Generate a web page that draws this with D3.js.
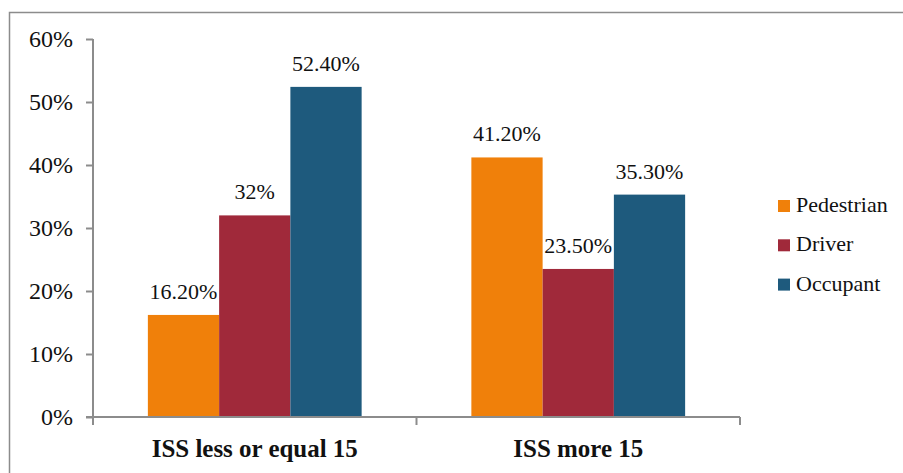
<!DOCTYPE html>
<html>
<head>
<meta charset="utf-8">
<script src="https://cdn.jsdelivr.net/npm/d3@7"></script>
<style>
  body { margin: 0; background: #fff; }
  svg { display: block; }
  svg text { font-family: "Liberation Serif", "Times New Roman", "DejaVu Serif", serif; }
</style>
</head>
<body>
<svg id="chart"></svg>
<script>
// chart data
var categories = ["ISS less or equal 15", "ISS more 15"];
var series = ["Pedestrian", "Driver", "Occupant"];
var pedestrian = [16.2, 41.2];
var driver = [32, 23.5];
var occupant = [52.4, 35.3];
var valueLabels = [["16.20%", "41.20%"], ["32%", "23.50%"], ["52.40%", "35.30%"]];
var yTicks = [0, 10, 20, 30, 40, 50, 60];
var colors = ["#f0800a", "#a0293a", "#1e5a7d"];

var config = { w: 903, h: 473 };
var plot = { left: 93, right: 740, top: 39, bottom: 417 };

var svg = d3.select("#chart")
  .attr("width", config.w)
  .attr("height", config.h);

// outer frame
svg.append("path")
  .attr("d", "M9.5," + config.h + "V12.5H" + config.w)
  .attr("fill", "none")
  .attr("stroke", "#8c8c8c")
  .attr("stroke-width", 1.5);

var x0 = d3.scaleBand()
  .domain(categories)
  .range([plot.left, plot.right]);

var x1 = d3.scaleBand()
  .domain(series)
  .range([0, x0.bandwidth()])
  .paddingOuter(0.77);

var y = d3.scaleLinear()
  .domain([0, 60])
  .range([plot.bottom, plot.top]);

var rows = [pedestrian, driver, occupant];

// bars
series.forEach(function(s, si) {
  var g = svg.append("g").attr("class", "series");
  g.selectAll("rect")
    .data(rows[si])
    .enter()
    .append("rect")
      .attr("x", function(d, i) { return x0(categories[i]) + x1(s); })
      .attr("y", function(d) { return y(d); })
      .attr("width", x1.bandwidth())
      .attr("height", function(d) { return y(0) - y(d); })
      .style("fill", colors[si]);

  g.selectAll("text")
    .data(rows[si])
    .enter()
    .append("text")
      .attr("x", function(d, i) { return x0(categories[i]) + x1(s) + x1.bandwidth() / 2; })
      .attr("y", function(d) { return y(d) - 16; })
      .attr("text-anchor", "middle")
      .attr("font-size", 22)
      .attr("fill", "#111")
      .text(function(d, i) { return valueLabels[si][i]; });
});

// y axis
var yAxis = d3.axisLeft(y)
  .tickValues(yTicks)
  .tickSize(7)
  .tickPadding(13)
  .tickFormat(function(d) { return d + "%"; });

var gy = svg.append("g")
  .attr("transform", "translate(" + plot.left + ",0)")
  .call(yAxis);
gy.attr("font-family", null);
gy.select(".domain").attr("stroke", "#8c8c8c").attr("stroke-width", 2)
  .attr("d", "M0," + plot.top + "V" + plot.bottom);
gy.selectAll(".tick line").attr("stroke", "#8c8c8c").attr("stroke-width", 2);
gy.selectAll(".tick text")
  .attr("font-size", 24)
  .attr("dy", "0.3em")
  .attr("fill", "#111");

// x axis
var gx = svg.append("g")
  .attr("transform", "translate(0," + plot.bottom + ")");
gx.append("line")
  .attr("x1", plot.left - 7).attr("x2", plot.right)
  .attr("stroke", "#8c8c8c").attr("stroke-width", 2);
var edges = [plot.left].concat(categories.map(function(c) { return x0(c) + x0.bandwidth(); }));
gx.selectAll("line.tick")
  .data(edges)
  .enter()
  .append("line")
    .attr("class", "tick")
    .attr("x1", function(d) { return d; })
    .attr("x2", function(d) { return d; })
    .attr("y1", 0).attr("y2", 8)
    .attr("stroke", "#8c8c8c").attr("stroke-width", 2);
gx.selectAll("text")
  .data(categories)
  .enter()
  .append("text")
    .attr("transform", function(d) {
      return "translate(" + (x0(d) + x0.bandwidth() / 2) + ",40) scale(0.96,1)";
    })
    .attr("text-anchor", "middle")
    .attr("font-size", 26)
    .attr("font-weight", "bold")
    .attr("fill", "#111")
    .text(function(d) { return d; });

// legend
var legend = svg.append("g")
  .attr("transform", "translate(778,212)");
var item = legend.selectAll("g")
  .data(series)
  .enter()
  .append("g")
    .attr("transform", function(d, i) { return "translate(0," + (i * 39.3) + ")"; });
item.append("rect")
  .attr("x", 0).attr("y", -12)
  .attr("width", 12).attr("height", 12)
  .style("fill", function(d, i) { return colors[i]; });
item.append("text")
  .attr("x", 18).attr("y", 0)
  .attr("font-size", 22)
  .attr("fill", "#111")
  .text(function(d) { return d; });
</script>
</body>
</html>
